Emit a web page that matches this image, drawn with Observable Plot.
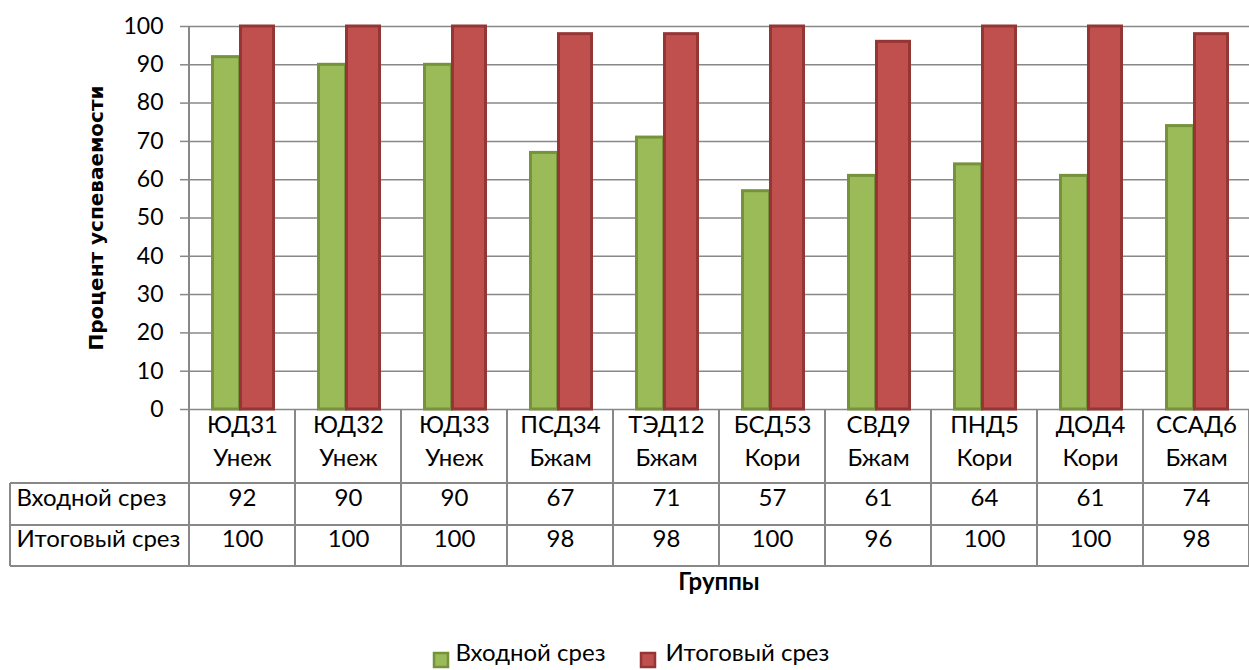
<!DOCTYPE html>
<html><head><meta charset="utf-8">
<script src="https://cdn.jsdelivr.net/npm/d3@7"></script>
<script src="https://cdn.jsdelivr.net/npm/@observablehq/plot@0.6"></script>
<style>body{margin:0;background:#fff} #chart svg{display:block}</style>
</head><body><div id="chart"></div>
<script>
const groups = ["ЮД31","ЮД32","ЮД33","ПСД34","ТЭД12","БСД53","СВД9","ПНД5","ДОД4","ССАД6"];
const teachers = ["Унеж","Унеж","Унеж","Бжам","Бжам","Кори","Бжам","Кори","Кори","Бжам"];
const inputValues = [92,90,90,67,71,57,61,64,61,74];
const finalValues = [100,100,100,98,98,100,96,100,100,98];
const seriesNames = ["Входной срез","Итоговый срез"];
const yTicks = [0,10,20,30,40,50,60,70,80,90,100];
const yTitle = "Процент успеваемости";
const xTitle = "Группы";

const rows = groups.map((g,i)=>({group:g, teacher:teachers[i], input:inputValues[i], final:finalValues[i]}));

const W = 1249, H = 670;
const FONT = "Lato, 'Open Sans', sans-serif";
const FS = 24;
const GREEN = "#9BBB59", GREEN_D = "#76923C", RED = "#C0504D", RED_D = "#943634", GRID = "#888888";

const plot = Plot.plot({
  width: W, height: H, marginTop: 26, marginBottom: 261, marginLeft: 188, marginRight: 0,
  style: {fontFamily: FONT, fontSize: FS + "px", color: "#000", background: "#fff"},
  x: {type: "band", domain: groups, padding: 0, axis: null},
  y: {domain: [0, 100], axis: null},
  marks: [
    Plot.gridY(yTicks, {stroke: GRID, strokeOpacity: 1, strokeWidth: 1.5}),
    Plot.axisY(yTicks, {tickSize: 8, tickPadding: 17, stroke: GRID, strokeWidth: 1.5, label: null, fontSize: 23, fill: "#000"}),
    Plot.barY(rows, {x: "group", y: "input", fill: GREEN, stroke: GREEN_D, strokeWidth: 3, insetLeft: 23.5, insetRight: 55.5}),
    Plot.barY(rows, {x: "group", y: "final", fill: RED, stroke: RED_D, strokeWidth: 3, insetLeft: 51.5, insetRight: 21.5}),
    // table: category header
    Plot.text(rows, {x: "group", text: "group", frameAnchor: "bottom", dy: 23, fontSize: FS, fill: "#000"}),
    Plot.text(rows, {x: "group", text: "teacher", frameAnchor: "bottom", dy: 56, fontSize: FS, fill: "#000"}),
    // table: values
    Plot.text(rows, {x: "group", text: "input", frameAnchor: "bottom", dy: 96, fontSize: FS, fill: "#000"}),
    Plot.text(rows, {x: "group", text: "final", frameAnchor: "bottom", dy: 137, fontSize: FS, fill: "#000"}),
    // row labels
    Plot.text([seriesNames[0]], {frameAnchor: "bottom-left", dx: -172, dy: 96, textAnchor: "start", fontSize: FS, fill: "#000"}),
    Plot.text([seriesNames[1]], {frameAnchor: "bottom-left", dx: -172, dy: 137, textAnchor: "start", fontSize: FS, fill: "#000"}),
    // axis titles
    Plot.text([yTitle], {frameAnchor: "left", textAnchor: "middle", rotate: -90, dx: -92, fontWeight: "bold", fontFamily: "'DejaVu Sans', sans-serif", fontSize: 20, fill: "#000"}),
    Plot.text([xTitle], {frameAnchor: "bottom", dy: 180, fontWeight: "bold", fontSize: FS, fill: "#000"}),
    // legend texts
    Plot.text([seriesNames[0]], {frameAnchor: "bottom-left", dx: 455 - 188, dy: 251, textAnchor: "start", fontSize: FS, fill: "#000"}),
    Plot.text([seriesNames[1]], {frameAnchor: "bottom-left", dx: 665 - 188, dy: 251, textAnchor: "start", fontSize: FS, fill: "#000"})
  ]
});

// table grid lines and legend swatches, positioned via Plot's scales
const xs = plot.scale("x"), ys = plot.scale("y");
const y0 = ys.apply(0), yTop = ys.apply(100);
const bw = xs.bandwidth;
const left = xs.apply(groups[0]);
const rowTop = y0 + 74, rowMid = y0 + 116, rowBot = y0 + 157;
const svg = d3.select(plot);
const g = svg.append("g").attr("stroke", GRID).attr("stroke-width", 2).attr("fill", "none");
g.append("line").attr("x1", left).attr("x2", left).attr("y1", yTop).attr("y2", rowBot);
groups.forEach(k => {
  const xe = xs.apply(k) + bw;
  g.append("line").attr("x1", xe).attr("x2", xe).attr("y1", y0).attr("y2", rowBot);
});
g.append("line").attr("x1", 10).attr("x2", 10).attr("y1", rowTop).attr("y2", rowBot);
[rowTop, rowMid, rowBot].forEach(yy => {
  g.append("line").attr("x1", 10).attr("x2", W).attr("y1", yy).attr("y2", yy);
});
const lg = svg.append("g");
lg.append("rect").attr("x", 434).attr("y", 653).attr("width", 14).attr("height", 14)
  .attr("fill", GREEN).attr("stroke", GREEN_D).attr("stroke-width", 2.5);
lg.append("rect").attr("x", 641).attr("y", 653).attr("width", 14).attr("height", 14)
  .attr("fill", RED).attr("stroke", RED_D).attr("stroke-width", 2.5);

document.getElementById("chart").appendChild(plot);
</script>
</body></html>
